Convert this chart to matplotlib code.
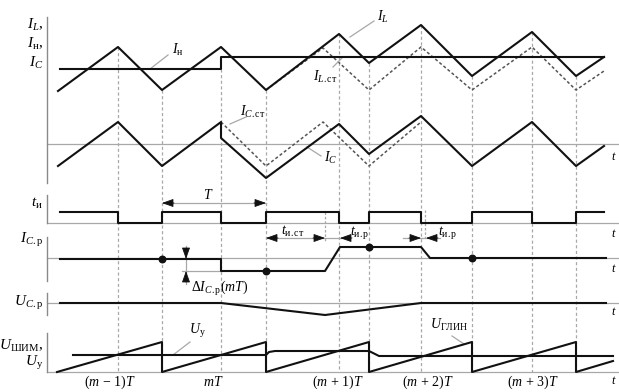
import matplotlib.pyplot as plt
import numpy as np

plt.rcParams['font.family'] = ['Liberation Serif', 'DejaVu Serif']
plt.rcParams['mathtext.fontset'] = 'custom'
plt.rcParams['mathtext.rm'] = 'Liberation Serif'
plt.rcParams['mathtext.it'] = 'Liberation Serif:italic'

## Time marks (switching instants)
t_on = [162, 266, 369, 472, 576]          # period starts (ramp reset)
t_off = [118, 221, 339, 421, 532]         # ramp crosses control level

## Panel 1: inductor current, load current, steady-state inductor current
iL_t = [58, 118, 162, 221, 266, 339, 369, 421, 472, 532, 576, 604]
iL_v = [91, 47, 90, 47, 90, 34, 63, 25, 76, 32, 76, 57]
iH_t = [60, 221, 221, 604]
iH_v = [69, 69, 57, 57]
iLst_t = [266, 323, 369, 421, 472, 532, 576, 604]
iLst_v = [90, 48, 90, 47, 90, 47, 90, 71]

## Panel 2: capacitor current
iC_zero = 144
iC_t = [58, 118, 162, 221, 221, 266, 339, 369, 421, 472, 532, 576, 604]
iC_v = [166, 122, 166, 122, 138, 178, 124, 154, 116, 166, 122, 166, 146]
iCst_t = [221, 266, 323, 369, 421]
iCst_v = [122, 166, 122, 166, 122]

## Panel 3: pulse durations
ti_base, ti_high = 223, 212
ti_edges = [60, 118, 162, 221, 266, 339, 369, 421, 472, 532, 576, 604]
ti_level = [1, 0, 1, 0, 1, 0, 1, 0, 1, 0, 1, 1]

## Panel 4: average capacitor current
icp_base = 258
icp_t = [60, 221, 221, 325, 340, 421, 430, 606]
icp_v = [259, 259, 271, 271, 247, 247, 258, 258]
icp_dot_t = [162, 266, 369, 472]
icp_dot_v = [259, 271, 247, 258]

## Panel 5: average capacitor voltage
ucp_base = 303
ucp_t = [60, 221, 325, 421, 606]
ucp_v = [303, 303, 315, 303, 303]

## Panel 6: ramp and control voltage
u_base = 372
saw_t = [57, 162, 162, 266, 266, 369, 369, 472, 472, 576, 576, 613]
saw_v = [372, 342, 372, 342, 372, 342, 372, 342, 372, 342, 372, 361]
uy_t = [73, 266, 269, 275, 369, 373, 379, 613]
uy_v = [355, 355, 352, 351, 351, 353, 356, 356]

## Dashed vertical markers (start from the I_L curve)
vl_t = [118, 162, 221, 266, 339, 369, 421, 472, 532, 576]
vl_top = [47, 90, 69, 90, 34, 63, 25, 76, 32, 76]

bottom_labels = [r'$(m\,-\,1)T$', '$mT$', r'$(m\,+\,1)T$', r'$(m\,+\,2)T$', r'$(m\,+\,3)T$']
bottom_x = [110, 213, 338, 428, 533]

BLACK = '#111111'
GRAY = '#a8a8a8'
DGRAY = '#8a8a8a'
lw_b = 1.5
lw_g = 0.9
fs = 10

fig = plt.figure(figsize=(6.19, 3.92), dpi=100)
ax = fig.add_axes([0, 0, 1, 1])
ax.set_xlim(0, 619)
ax.set_ylim(392, 0)
ax.axis('off')

## dashed verticals
for x, y0 in zip(vl_t, vl_top):
    ax.plot([x, x], [y0, u_base], color=GRAY, lw=0.9, ls=(0, (2.5, 2)), zorder=1)

## left axis segments
for y0, y1 in [(17, 183), (195, 223), (237, 281), (293, 315), (333, 372)]:
    ax.plot([47, 47], [y0, y1], color=DGRAY, lw=1.0)

## baselines
for yb in [iC_zero, ti_base, icp_base, ucp_base, u_base]:
    ax.plot([47, 619], [yb, yb], color=GRAY, lw=lw_g, zorder=1)

## panel 1
ax.plot(iH_t, iH_v, color=BLACK, lw=lw_b, zorder=3)
ax.plot(iL_t, iL_v, color=BLACK, lw=lw_b, zorder=3)
ax.plot(iLst_t, iLst_v, color='#555555', lw=1.1, ls=(0, (2, 1.5)), zorder=2)

## panel 2
ax.plot(iC_t, iC_v, color=BLACK, lw=lw_b, zorder=3)
ax.plot(iCst_t, iCst_v, color='#555555', lw=1.1, ls=(0, (2, 1.5)), zorder=2)

## panel 3
ti_v = [ti_high if l else ti_base for l in ti_level]
ax.plot(ti_edges, ti_v, drawstyle='steps-post', color=BLACK, lw=lw_b, zorder=3)

## panel 4
ax.plot(icp_t, icp_v, color=BLACK, lw=lw_b, zorder=3)
ax.plot([182, 221], [271, 271], color=GRAY, lw=lw_g, zorder=1)
ax.scatter(icp_dot_t, icp_dot_v, s=22, color=BLACK, zorder=4)

## panel 5
ax.plot(ucp_t, ucp_v, color=BLACK, lw=lw_b, zorder=3)

## panel 6
ax.plot(saw_t, saw_v, color=BLACK, lw=lw_b, zorder=3)
ax.plot(uy_t, uy_v, color=BLACK, lw=lw_b, zorder=3)


def head(tip, tail):
    ax.annotate('', xy=tip, xytext=tail,
                arrowprops=dict(arrowstyle='-|>,head_length=0.7,head_width=0.25',
                                color=BLACK, lw=0.6, shrinkA=0, shrinkB=0))


## T arrow
ax.plot([162, 266], [203, 203], color=GRAY, lw=lw_g)
head((162, 203), (174, 203))
head((266, 203), (254, 203))
## t_и.ст and t_и.р arrows
ax.plot([266, 350], [238, 238], color=GRAY, lw=lw_g)
head((266, 238), (278, 238))
head((325, 238), (313, 238))
head((340, 238), (352, 238))
ax.plot([325, 325], [212, 242], color=GRAY, lw=0.9, ls=(0, (2, 1.5)))
ax.plot([403, 440], [238, 238], color=GRAY, lw=lw_g)
head((421, 238), (409, 238))
head((426, 238), (438, 238))
ax.plot([425, 425], [210, 238], color=GRAY, lw=0.9, ls=(0, (2, 1.5)))
## delta I arrows
ax.plot([186, 186], [246, 284], color=GRAY, lw=lw_g)
head((186, 259), (186, 248))
head((186, 271), (186, 282))

## leader lines
for (x0, y0), (x1, y1) in [((150, 69), (168, 55)), ((350, 37), (374, 21)),
                           ((333, 67), (343, 57)), ((230, 124), (246, 117)),
                           ((307, 147), (321, 156)), ((173, 355), (190, 342)),
                           ((452, 336), (464, 344))]:
    ax.plot([x0, x1], [y0, y1], color=GRAY, lw=lw_g)

## left labels
for s, y in [(r'$I_{L},$', 25), (r'$I_{\mathrm{н}},$', 44), (r'$I_{C}$', 63),
             (r'$t_{\mathrm{и}}$', 203), (r'$I_{C.\mathrm{р}}$', 240),
             (r'$U_{C.\mathrm{р}}$', 303), (r'$U_{\mathrm{ШИМ}},$', 346),
             (r'$U_{\mathrm{у}}$', 363)]:
    ax.text(43, y, s, ha='right', va='center', fontsize=fs + 1)

## curve labels
for s, x, y in [(r'$I_{\mathrm{н}}$', 178, 50), (r'$I_{L}$', 383, 17),
                (r'$I_{L.\mathrm{ст}}$', 325, 77), (r'$I_{C.\mathrm{ст}}$', 253, 112),
                (r'$I_{C}$', 331, 158), ('$T$', 208, 195),
                (r'$t_{\mathrm{и.ст}}$', 293, 231), (r'$t_{\mathrm{и.р}}$', 360, 232),
                (r'$t_{\mathrm{и.р}}$', 448, 232), (r'$U_{\mathrm{у}}$', 197, 331),
                (r'$U_{\mathrm{ГЛИН}}$', 449, 325)]:
    ax.text(x, y, s, ha='center', va='center', fontsize=fs)
ax.text(191, 288, r'$\Delta I_{C.\mathrm{р}}(mT)$', ha='left', va='center', fontsize=fs)

## time labels
for s, x in zip(bottom_labels, bottom_x):
    ax.text(x, 382, s, ha='center', va='center', fontsize=fs)
for y in [157, 234, 269, 312, 381]:
    ax.text(614, y, '$t$', ha='center', va='center', fontsize=fs - 1)

fig.savefig('out.png', dpi=100)
